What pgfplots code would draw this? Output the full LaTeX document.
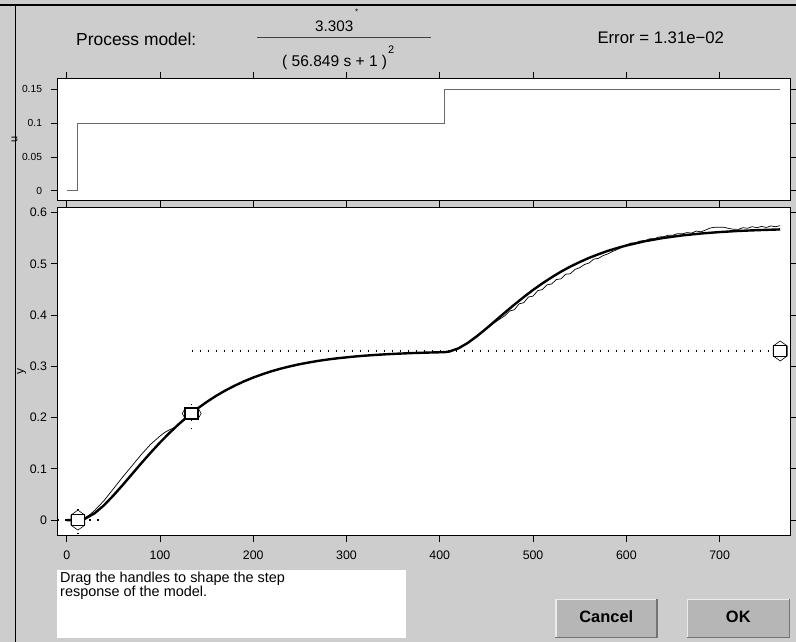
\documentclass[border=0pt]{standalone}
\usepackage{pgfplots}
\pgfplotsset{compat=1.18}
\usepackage{fontspec}
\setmainfont{Liberation Sans}
\definecolor{winbg}{HTML}{CDCDCD}
\definecolor{btnbg}{HTML}{B6B6B6}
\definecolor{uline}{HTML}{6A6A6A}

\pgfdeclareplotmark{hexv}{%
 \pgfpathmoveto{\pgfpoint{0bp}{10bp}}%
 \pgfpathlineto{\pgfpoint{7bp}{5bp}}%
 \pgfpathlineto{\pgfpoint{7bp}{-5bp}}%
 \pgfpathlineto{\pgfpoint{0bp}{-10bp}}%
 \pgfpathlineto{\pgfpoint{-7bp}{-5bp}}%
 \pgfpathlineto{\pgfpoint{-7bp}{5bp}}%
 \pgfpathclose\pgfusepathqfillstroke}
\pgfdeclareplotmark{hexh}{%
 \pgfpathmoveto{\pgfpoint{-9.5bp}{0bp}}%
 \pgfpathlineto{\pgfpoint{-6bp}{6bp}}%
 \pgfpathlineto{\pgfpoint{6bp}{6bp}}%
 \pgfpathlineto{\pgfpoint{9.5bp}{0bp}}%
 \pgfpathlineto{\pgfpoint{6bp}{-6bp}}%
 \pgfpathlineto{\pgfpoint{-6bp}{-6bp}}%
 \pgfpathclose\pgfusepathqfillstroke}
\pgfdeclareplotmark{hbox}{%
 \pgfpathrectangle{\pgfpoint{-6.5bp}{-5.5bp}}{\pgfpoint{13bp}{11bp}}%
 \pgfusepathqfillstroke}

\begin{document}
\begin{tikzpicture}[x=1bp,y=1bp]
\useasboundingbox (0,0) rectangle (796,642);
\fill[winbg] (0,0) rectangle (796,642);
\draw[black, line width=1.5bp] (0,637) -- (796,637);
\draw[black, line width=1bp] (15,0) -- (15,637);

% header
\node[anchor=base west, inner sep=0, font=\fontsize{17.5}{20}\selectfont] at (76,596.3) {Process model:};
\node[anchor=base west, inner sep=0, font=\fontsize{15.3}{18}\selectfont] at (315,610.3) {3.303};
\node[anchor=base west, inner sep=0, font=\fontsize{8}{9}\selectfont] at (355,627) {*};
\draw[black!75, line width=1bp] (257.3,604.7) -- (430.7,604.7);
\node[anchor=base west, inner sep=0, font=\fontsize{15.6}{18}\selectfont] at (282,575.3) {( 56.849 s + 1 )\kern1bp\raisebox{13.4bp}{\fontsize{11}{12}\selectfont 2}};
\node[anchor=base west, inner sep=0, font=\fontsize{16.8}{19}\selectfont] at (597.3,598.7) {Error = 1.31e−02};

% upper axis
\begin{axis}[
 at={(57bp,441bp)}, anchor=south west, scale only axis,
 width=733bp, height=122.5bp,
 xmin=-10.4, xmax=775.5, ymin=-0.015, ymax=0.166,
 axis background/.style={fill=white},
 tick align=outside, major tick length=6.5bp,
 xtick={0,100,200,300,400,500,600,700}, xticklabels={},
 ytick={0,0.05,0.1,0.15}, yticklabels={0,0.05,0.1,0.15},
 tick style={black, line width=0.8bp},
 axis line style={black, line width=1bp},
 /pgf/number format/assume math mode=true,
 yticklabel style={font=\fontsize{10.3}{12}\selectfont, xshift=-5bp},
 ylabel={u},
 ylabel style={at={(axis description cs:-0.058,0.5)}, anchor=center, font=\fontsize{11}{12}\selectfont},
]
\addplot[uline, line width=1bp] coordinates {(0,0) (12,0) (12,0.1) (405,0.1) (405,0.15) (765,0.15)};
\end{axis}

% lower axis
\begin{axis}[
 at={(57bp,106bp)}, anchor=south west, scale only axis,
 width=733bp, height=328bp,
 xmin=-10.4, xmax=775.5, ymin=-0.031, ymax=0.609,
 axis background/.style={fill=white},
 tick align=outside, major tick length=6.5bp,
 xtick={0,100,200,300,400,500,600,700}, xticklabels={0,100,200,300,400,500,600,700},
 ytick={0,0.1,0.2,0.3,0.4,0.5,0.6}, yticklabels={0,0.1,0.2,0.3,0.4,0.5,0.6},
 tick style={black, line width=0.8bp},
 axis line style={black, line width=1bp},
 /pgf/number format/assume math mode=true,
 ticklabel style={font=\fontsize{12.4}{14}\selectfont},
 xticklabel style={yshift=-5bp},
 ylabel={y},
 ylabel style={at={(axis description cs:-0.048,0.5)}, anchor=center, font=\fontsize{12}{14}\selectfont},
 clip=false,
]
% dotted guide lines
\addplot[black, line width=1.3bp, dash pattern=on 1.3bp off 6.7bp] coordinates {(134,0.33) (758,0.33)};
\addplot[black, line width=1.3bp, dash pattern=on 1.3bp off 6.7bp] coordinates {(-10,0) (36,0)};
\addplot[black, line width=1.3bp, dash pattern=on 1.3bp off 6.7bp] coordinates {(12,-0.028) (12,0.03)};
\addplot[black, line width=1.3bp, dash pattern=on 1.3bp off 6.7bp] coordinates {(134,0.177) (134,0.232)};
% handles
\addplot[only marks, mark=hexv, mark options={black, line width=0.6bp, fill=white}] coordinates {(12,0) (765,0.33)};
\addplot[only marks, mark=hexh, mark options={black, line width=0.6bp, fill=white}] coordinates {(134,0.208)};
\addplot[only marks, mark=hbox, mark options={black, line width=1.5bp, fill=white}] coordinates {(12,0) (134,0.208) (765,0.33)};
% measured response (thin)
\addplot[black, line width=0.7bp] coordinates {
(0,0) (10,0) (15,0.001) (20,0.005) (25,0.011) (30,0.019) (40,0.038) (50,0.061)
(60,0.084) (70,0.106) (80,0.128) (90,0.148) (100,0.164) (105,0.171) (110,0.176)
(115,0.180) (120,0.187) (125,0.195) (130,0.203) (140,0.2175) (150,0.2305)
(160,0.2425) (170,0.2525) (180,0.262) (190,0.2705) (200,0.2775) (210,0.2840)
(220,0.2900) (230,0.2950) (240,0.2998) (250,0.3040) (260,0.3070) (270,0.3105)
(280,0.3130) (290,0.3150) (300,0.3170) (310,0.3188) (320,0.3205) (330,0.3218)
(340,0.3232) (350,0.3245) (355,0.3255) (360,0.3248) (365,0.3262) (370,0.3255)
(375,0.3268) (380,0.3262) (385,0.3275) (390,0.3268) (395,0.3280) (400,0.3275)
(405,0.3285) (410,0.3282) (420,0.3360) (425,0.3410) (430,0.3465) (435,0.3520)
(440,0.3590) (445,0.3660) (450,0.3730) (455,0.3800) (460,0.3870) (465,0.3930)
(470,0.3990) (475,0.4080) (480,0.4105) (485,0.4219) (490,0.4242) (495,0.4352)
(500,0.4371) (505,0.4476) (510,0.4499) (515,0.4590) (520,0.4608) (525,0.4694)
(530,0.4708) (535,0.4798) (540,0.4807) (545,0.4892) (550,0.4925) (555,0.4986)
(560,0.5016) (565,0.5092) (570,0.5107) (575,0.5160) (580,0.5192) (585,0.5240)
(590,0.5278) (595,0.5323) (600,0.5368) (605,0.5405) (610,0.5408) (615,0.5448)
(620,0.5450) (625,0.5488) (630,0.5490) (635,0.5525) (640,0.5530) (645,0.5560)
(650,0.5560) (655,0.5590) (660,0.5585) (665,0.5610) (670,0.5600) (675,0.5640)
(680,0.5625) (685,0.5660) (690,0.5700) (695,0.5715) (700,0.5715) (705,0.5712)
(710,0.5690) (715,0.5675) (720,0.5672) (725,0.5705) (730,0.5695) (735,0.5725)
(740,0.5705) (745,0.5730) (750,0.5710) (755,0.5740) (760,0.5725) (765,0.5745)
};
% model response (thick)
\addplot[black, line width=2.4bp] coordinates {
(0,0) (12,0) (20,0.0030) (30,0.0134) (40,0.0290) (50,0.0479) (60,0.0684)
(70,0.0897) (80,0.1110) (90,0.1316) (100,0.1513) (110,0.1698) (120,0.1870)
(130,0.2028) (140,0.2173) (150,0.2304) (160,0.2422) (170,0.2528) (180,0.2622)
(190,0.2707) (200,0.2782) (210,0.2847) (220,0.2907) (230,0.2958) (240,0.3003)
(250,0.3043) (260,0.3077) (270,0.3108) (280,0.3134) (290,0.3157) (300,0.3176)
(310,0.3194) (320,0.3209) (330,0.3222) (340,0.3233) (350,0.3243) (360,0.3251)
(370,0.3259) (380,0.3265) (390,0.3270) (405,0.3277) (410,0.3288) (420,0.3351)
(430,0.3457) (440,0.3591) (450,0.3740) (460,0.3896) (470,0.4053) (480,0.4205)
(490,0.4352) (500,0.4491) (510,0.4619) (520,0.4738) (530,0.4848) (540,0.4947)
(550,0.5035) (560,0.5116) (570,0.5187) (580,0.5252) (590,0.5308) (600,0.5358)
(620,0.5442) (640,0.5506) (660,0.5555) (680,0.5592) (700,0.5620) (720,0.5642)
(740,0.5657) (765,0.5672)
};
\end{axis}

% message box
\fill[white] (57,3.7) rectangle (406,72);
\node[anchor=north west, align=left, inner sep=0, font=\fontsize{14.5}{14.4}\selectfont] at (60,70.5) {Drag the handles to shape the step\\response of the model.};

% buttons
\fill[btnbg] (555,3.7) rectangle (657.7,43.3);
\draw[white!92!black, line width=1.5bp] (555.75,3.7) -- (555.75,42.55) -- (657.7,42.55);
\draw[black!55, line width=1.5bp] (555,4.45) -- (656.95,4.45) -- (656.95,43.3);
\node[font=\bfseries\fontsize{16.5}{18}\selectfont] at (606.3,25) {Cancel};
\fill[btnbg] (686.7,3.7) rectangle (790,43.3);
\draw[white!92!black, line width=1.5bp] (687.45,3.7) -- (687.45,42.55) -- (790,42.55);
\draw[black!55, line width=1.5bp] (686.7,4.45) -- (789.25,4.45) -- (789.25,43.3);
\node[font=\bfseries\fontsize{16.5}{18}\selectfont] at (738.3,25) {OK};
\end{tikzpicture}
\end{document}
